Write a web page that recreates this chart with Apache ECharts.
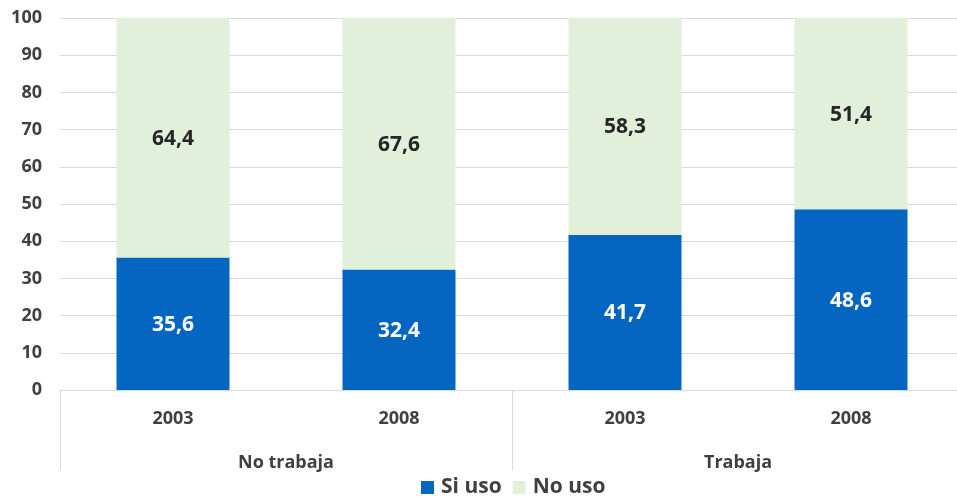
<!DOCTYPE html>
<html>
<head>
<meta charset="utf-8">
<script src="https://cdn.jsdelivr.net/npm/echarts@6/dist/echarts.min.js"></script>
<style>html,body{margin:0;padding:0;background:#fff}#c{width:957px;height:497px}</style>
</head>
<body>
<div id="c"></div>
<script>
const years = ['2003', '2008', '2003', '2008'];
const groups = ['No trabaja', 'Trabaja'];
const siUso = [35.6, 32.4, 41.7, 48.6];
const noUso = [64.4, 67.6, 58.3, 51.4];
const yTicks = { min: 0, max: 100, interval: 10 };

const FONT = '"Open Sans", "DejaVu Sans", sans-serif';
const chart = echarts.init(document.getElementById('c'));
const fmt = p => String(p.value).replace('.', ',');
chart.setOption({
  animation: false,
  textStyle: { fontFamily: FONT },
  grid: { left: 60, width: 904, top: 18, bottom: 107, outerBoundsMode: 'none', containLabel: false },
  legend: {
    top: 472, left: 416, itemWidth: 13, itemHeight: 13, itemGap: 11,
    icon: 'rect',
    textStyle: { fontFamily: FONT, fontSize: 21, fontWeight: 'bold', color: '#404040', padding: [0, 0, 0, 2] },
    data: ['Si uso', 'No uso']
  },
  xAxis: [
    {
      type: 'category', data: years, position: 'bottom',
      axisLine: { lineStyle: { color: '#d9d9d9', width: 1 } },
      axisTick: { show: false },
      axisLabel: { color: '#404040', fontSize: 18, fontWeight: 'bold', fontFamily: FONT, margin: 20 }
    },
    {
      type: 'category', data: groups, position: 'bottom', offset: 80,
      axisLine: { show: false },
      axisTick: { show: true, inside: true, length: 80, lineStyle: { color: '#d9d9d9', width: 1 } },
      axisLabel: { inside: true, color: '#404040', fontSize: 18, fontWeight: 'bold', fontFamily: FONT, margin: -2, verticalAlign: 'bottom' }
    }
  ],
  yAxis: {
    type: 'value', min: yTicks.min, max: yTicks.max, interval: yTicks.interval,
    axisLine: { show: false }, axisTick: { show: false },
    splitLine: { lineStyle: { color: '#d9d9d9', width: 1 } },
    axisLabel: { color: '#404040', fontSize: 18, fontWeight: 'bold', fontFamily: FONT, margin: 18 }
  },
  series: [
    {
      name: 'Si uso', type: 'bar', stack: 's', data: siUso, xAxisIndex: 0,
      barCategoryGap: '50%',
      itemStyle: { color: '#0566c1' },
      label: { show: true, position: 'inside', offset: [0, 1], formatter: fmt, color: '#ffffff', fontSize: 21, fontWeight: 'bold', fontFamily: FONT }
    },
    {
      name: 'No uso', type: 'bar', stack: 's', data: noUso, xAxisIndex: 0,
      barCategoryGap: '50%',
      itemStyle: { color: '#e2efda' },
      label: { show: true, position: 'inside', offset: [0, 1], formatter: fmt, color: '#262626', fontSize: 21, fontWeight: 'bold', fontFamily: FONT }
    }
  ]
});
</script>
</body>
</html>
